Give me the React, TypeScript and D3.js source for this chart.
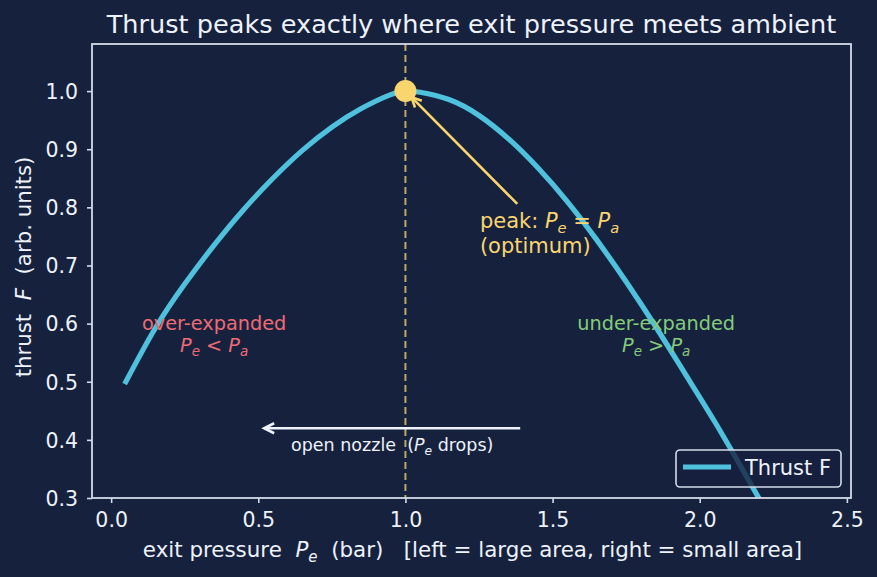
import React, { useEffect, useRef } from 'react';
import * as d3 from 'd3';

// exit pressure (bar) and thrust (arb. units)
const PE = [0.05, 0.15, 0.25, 0.35, 0.45, 0.55, 0.65, 0.75, 0.85, 0.95, 1.0, 1.05, 1.15, 1.25, 1.35, 1.45, 1.55, 1.65, 1.75, 1.85, 1.95, 2.05, 2.15, 2.25, 2.35, 2.45];
const THRUST = [0.5, 0.592, 0.668, 0.735, 0.796, 0.85, 0.898, 0.938, 0.97, 0.994, 1.0, 0.998, 0.985, 0.958, 0.918, 0.868, 0.81, 0.744, 0.672, 0.595, 0.514, 0.432, 0.345, 0.256, 0.165, 0.072];

const X_TICKS = [0, 0.5, 1.0, 1.5, 2.0, 2.5];
const Y_TICKS = [0.3, 0.4, 0.5, 0.6, 0.7, 0.8, 0.9, 1.0];

const PEAK = { pe: 1.0, f: 1.0 };

const BG = '#16213e';
const FG = '#eef2fa';
const SPINE = '#d3dbe9';
const CYAN = '#4fc1dc';
const GOLD = '#f9d56e';
const RED = '#ee6b73';
const GREEN = '#84cc7a';
const FONT = '"DejaVu Sans", sans-serif';

type Part = { t: string; i?: boolean; sub?: boolean };

// writes mathtext-like runs (italic letters, subscripts) into a <text>
function mathText(sel: any, parts: Part[], size: number) {
  const shift = size * 0.22;
  let down = false;
  parts.forEach((p) => {
    const ts = sel.append('tspan').text(p.t);
    if (p.i) ts.attr('font-style', 'italic');
    if (p.sub) {
      ts.attr('font-size', size * 0.7).attr('dy', down ? 0 : shift);
      down = true;
    } else {
      if (down) ts.attr('dy', -shift);
      down = false;
    }
  });
}

const App = () => {
  const ref = useRef<SVGSVGElement>(null);

  useEffect(() => {
    document.body.style.margin = '0';
    const svg = d3.select(ref.current);
    svg.selectAll('*').remove();

    const W = 877, H = 577;
    const m = { left: 92, right: 851, top: 44, bottom: 498 };

    const x = d3.scaleLinear().domain([-0.065, 2.514]).range([m.left, m.right]);
    const y = d3.scaleLinear().domain([0.3, 1.081]).range([m.bottom, m.top]);

    svg.append('rect').attr('width', W).attr('height', H).attr('fill', BG);

    svg.append('clipPath').attr('id', 'plotclip')
      .append('rect').attr('x', m.left).attr('y', m.top)
      .attr('width', m.right - m.left).attr('height', m.bottom - m.top);

    // dashed line at the optimum
    svg.append('line')
      .attr('x1', x(PEAK.pe)).attr('x2', x(PEAK.pe))
      .attr('y1', m.top).attr('y2', m.bottom)
      .attr('stroke', GOLD).attr('stroke-opacity', 0.75)
      .attr('stroke-width', 2).attr('stroke-dasharray', '7,4');

    // thrust curve
    const line = d3.line<number>()
      .x((d, i) => x(PE[i]))
      .y((d) => y(d))
      .curve(d3.curveNatural);
    svg.append('path')
      .datum(THRUST)
      .attr('d', line)
      .attr('clip-path', 'url(#plotclip)')
      .attr('fill', 'none').attr('stroke', CYAN).attr('stroke-width', 5.2)
      .attr('stroke-linecap', 'square');

    // axes frame
    svg.append('rect')
      .attr('x', m.left).attr('y', m.top)
      .attr('width', m.right - m.left).attr('height', m.bottom - m.top)
      .attr('fill', 'none').attr('stroke', SPINE).attr('stroke-width', 1.8);

    const xAxis = svg.append('g').attr('transform', `translate(0,${m.bottom})`)
      .call(d3.axisBottom(x).tickValues(X_TICKS).tickFormat(d3.format('.1f')).tickSize(5).tickPadding(9));
    const yAxis = svg.append('g').attr('transform', `translate(${m.left},0)`)
      .call(d3.axisLeft(y).tickValues(Y_TICKS).tickFormat(d3.format('.1f')).tickSize(5).tickPadding(9));
    [xAxis, yAxis].forEach((g) => {
      g.select('.domain').remove();
      g.selectAll('line').attr('stroke', SPINE).attr('stroke-width', 1.6);
      g.selectAll('text').attr('fill', FG).attr('font-size', 20.5).attr('font-family', FONT);
    });
    yAxis.selectAll('text').attr('dy', '0.36em');

    // title
    svg.append('text')
      .attr('x', (m.left + m.right) / 2).attr('y', 33)
      .attr('text-anchor', 'middle').attr('fill', FG)
      .attr('font-family', FONT).attr('font-size', 25.6)
      .text('Thrust peaks exactly where exit pressure meets ambient');

    // axis labels
    const xl = svg.append('text')
      .attr('x', (m.left + m.right) / 2 + 1).attr('y', 557)
      .attr('text-anchor', 'middle').attr('fill', FG)
      .attr('font-family', FONT).attr('font-size', 21.4)
      .style('white-space', 'pre');
    mathText(xl, [
      { t: 'exit pressure  ' }, { t: 'P', i: true }, { t: 'e', i: true, sub: true },
      { t: '  (bar)   [left = large area, right = small area]' },
    ], 21.4);

    const yl = svg.append('text')
      .attr('transform', `translate(31,${(m.top + m.bottom) / 2 - 4}) rotate(-90)`)
      .attr('text-anchor', 'middle').attr('fill', FG)
      .attr('font-family', FONT).attr('font-size', 21.3)
      .style('white-space', 'pre');
    mathText(yl, [{ t: 'thrust  ' }, { t: 'F', i: true }, { t: '  (arb. units)' }], 21.3);

    // peak annotation arrow (open head at the marker)
    const tail = [x(1.38), y(0.806)];
    const head = [x(PEAK.pe) + 6, y(PEAK.f) + 6];
    const ang = Math.atan2(head[1] - tail[1], head[0] - tail[0]);
    const hl = 11, hw = 0.45;
    svg.append('line')
      .attr('x1', tail[0]).attr('y1', tail[1]).attr('x2', head[0]).attr('y2', head[1])
      .attr('stroke', GOLD).attr('stroke-width', 2.6);
    svg.append('path')
      .attr('d', `M${head[0] - hl * Math.cos(ang - hw)},${head[1] - hl * Math.sin(ang - hw)}L${head[0]},${head[1]}L${head[0] - hl * Math.cos(ang + hw)},${head[1] - hl * Math.sin(ang + hw)}`)
      .attr('fill', 'none').attr('stroke', GOLD).attr('stroke-width', 2.6);

    svg.append('circle')
      .attr('cx', x(PEAK.pe)).attr('cy', y(PEAK.f)).attr('r', 11)
      .attr('fill', GOLD);

    const pk = svg.append('text')
      .attr('x', x(1.253)).attr('y', y(0.764))
      .attr('fill', GOLD).attr('font-family', FONT).attr('font-size', 21)
      .style('white-space', 'pre');
    mathText(pk, [
      { t: 'peak: ' }, { t: 'P', i: true }, { t: 'e', i: true, sub: true },
      { t: ' = ' }, { t: 'P', i: true }, { t: 'a', i: true, sub: true },
    ], 21);
    svg.append('text')
      .attr('x', x(1.253)).attr('y', y(0.764) + 25)
      .attr('fill', GOLD).attr('font-family', FONT).attr('font-size', 21)
      .text('(optimum)');

    // regime labels
    const regime = (cx: number, name: string, op: string, color: string) => {
      svg.append('text')
        .attr('x', x(cx)).attr('y', y(0.589))
        .attr('text-anchor', 'middle').attr('fill', color)
        .attr('font-family', FONT).attr('font-size', 19.3)
        .text(name);
      const t = svg.append('text')
        .attr('x', x(cx)).attr('y', y(0.589) + 22)
        .attr('text-anchor', 'middle').attr('fill', color)
        .attr('font-family', FONT).attr('font-size', 19.3)
        .style('white-space', 'pre');
      mathText(t, [
        { t: 'P', i: true }, { t: 'e', i: true, sub: true },
        { t: ' ' + op + ' ', i: false }, { t: 'P', i: true }, { t: 'a', i: true, sub: true },
      ], 19.3);
    };
    regime(0.35, 'over-expanded', '<', RED);
    regime(1.852, 'under-expanded', '>', GREEN);

    // "open nozzle" arrow
    const a0 = [x(1.39), y(0.42)];
    const a1 = [x(0.52), y(0.42)];
    svg.append('line')
      .attr('x1', a0[0]).attr('y1', a0[1]).attr('x2', a1[0]).attr('y2', a1[1])
      .attr('stroke', FG).attr('stroke-width', 2.6);
    svg.append('path')
      .attr('d', `M${a1[0] + 10},${a1[1] - 5}L${a1[0]},${a1[1]}L${a1[0] + 10},${a1[1] + 5}`)
      .attr('fill', 'none').attr('stroke', FG).attr('stroke-width', 2.6);
    const on = svg.append('text')
      .attr('x', x(0.955)).attr('y', y(0.42) + 23)
      .attr('text-anchor', 'middle').attr('fill', FG)
      .attr('font-family', FONT).attr('font-size', 17.5)
      .style('white-space', 'pre');
    mathText(on, [{ t: 'open nozzle  (' }, { t: 'P', i: true }, { t: 'e', i: true, sub: true }, { t: ' drops)' }], 17.5);

    // legend
    const lg = svg.append('g');
    lg.append('rect')
      .attr('x', 676).attr('y', 450).attr('width', 165).attr('height', 37).attr('rx', 4)
      .attr('fill', BG).attr('fill-opacity', 0.8)
      .attr('stroke', SPINE).attr('stroke-width', 1.6);
    lg.append('line')
      .attr('x1', 683).attr('x2', 731).attr('y1', 467).attr('y2', 467)
      .attr('stroke', CYAN).attr('stroke-width', 5.2);
    lg.append('text')
      .attr('x', 745).attr('y', 475)
      .attr('fill', FG).attr('font-family', FONT).attr('font-size', 21)
      .text('Thrust F');
  }, []);

  return (
    <div className="App">
      <svg ref={ref} width={877} height={577} style={{ display: 'block' }} />
    </div>
  );
};

export default App;
